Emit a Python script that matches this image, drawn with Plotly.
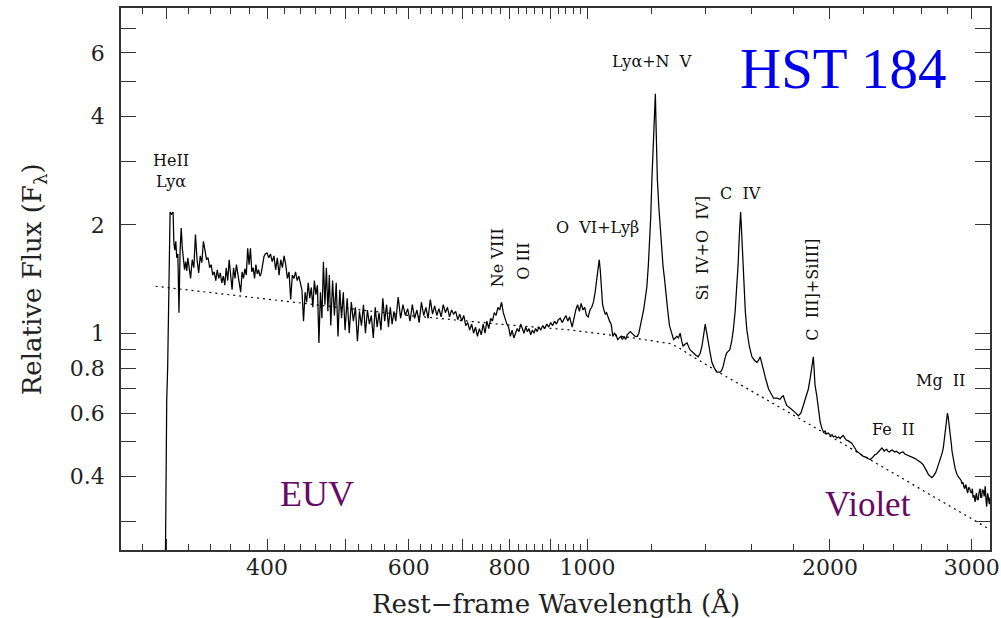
import math
import plotly.graph_objects as go

# ---------------- data ----------------
# Segment 1: EUV, HeII Ly-alpha edge to 500 A
w1 = [299.0, 299.6, 300.3, 301.1, 301.9, 302.6, 303.2, 304.5, 305.8, 306.5, 307.3, 308.2, 309.0, 310.0, 311.0, 312.0, 313.0, 314.0, 315.0, 316.0,
      317.0, 318.0, 319.0, 320.0, 321.5, 323.0, 324.5, 326.0, 327.5, 329.0, 330.5, 332.0, 333.5, 335.0, 336.5, 338.0, 339.5, 341.0, 342.5, 344.0,
      345.5, 347.0, 348.5, 350.0, 351.5, 353.0, 354.5, 356.0, 357.5, 359.0, 360.5, 362.0, 363.5, 365.0, 366.5, 368.0, 369.5, 371.0, 372.5, 374.0,
      375.5, 377.0, 378.5, 380.0, 381.5, 383.0, 384.5, 386.0, 387.5, 389.0, 390.5, 392.0, 393.5, 395.0, 396.5, 398.0, 400.0, 402.0, 404.0, 406.0,
      408.0, 410.0, 412.0, 414.0, 416.0, 418.0, 420.0, 422.0, 424.0, 426.0, 428.0, 430.0, 432.0, 434.0, 436.0, 438.0, 440.0, 442.0, 444.0, 446.0,
      448.0, 450.0, 452.0, 454.0, 456.0, 458.0, 460.0, 462.0, 464.0, 466.0, 468.0, 470.0, 472.0, 474.0, 476.0, 478.0, 480.0, 482.5, 485.0, 487.5,
      490.0, 492.5, 495.0, 497.5, 500.0]
f1 = [0.20, 0.40, 0.65, 0.80, 1.25, 1.50, 2.17, 2.14, 2.17, 1.78, 1.70, 1.80, 1.62, 1.66, 1.14, 1.70, 1.96, 1.72, 1.55, 1.50,
      1.58, 1.49, 1.62, 1.55, 1.42, 1.60, 1.52, 1.88, 1.60, 1.47, 1.64, 1.57, 1.80, 1.70, 1.60, 1.62, 1.52, 1.55, 1.45, 1.48,
      1.40, 1.50, 1.42, 1.47, 1.38, 1.44, 1.36, 1.52, 1.40, 1.60, 1.46, 1.32, 1.52, 1.42, 1.55, 1.47, 1.38, 1.30, 1.48, 1.42,
      1.51, 1.45, 1.72, 1.55, 1.72, 1.48, 1.52, 1.42, 1.55, 1.46, 1.50, 1.44, 1.47, 1.56, 1.63, 1.66, 1.67, 1.62, 1.66, 1.58,
      1.64, 1.50, 1.62, 1.45, 1.60, 1.52, 1.64, 1.55, 1.42, 1.48, 1.24, 1.45, 1.42, 1.48, 1.40, 1.44, 1.36, 1.32, 1.08, 1.30,
      1.22, 1.38, 1.25, 1.34, 1.18, 1.40, 1.28, 1.36, 0.94, 1.30, 1.10, 1.58, 1.20, 1.52, 1.15, 1.45, 1.05, 1.40, 1.12, 1.38,
      0.98, 1.32, 1.10, 1.30, 1.02]

# Segment 2: 500 - 1000 A
w2 = [503, 506, 509, 512, 515, 518, 521, 524, 527, 530, 533, 536, 539, 542, 545, 548, 551, 554, 557, 560,
      563, 566, 569, 572, 575, 578, 582, 586, 590, 594, 598, 602, 606, 610, 614, 618, 622, 626, 630, 634,
      638, 642, 646, 650, 654, 658, 662, 666, 670, 674, 678, 682, 686, 690, 694, 698, 702, 706, 710, 714,
      718, 722, 726, 730, 734, 738, 742, 746, 750, 754, 758, 762, 766, 770, 774, 778, 782, 786, 790, 794,
      798, 802, 806, 810, 814, 818, 822, 826, 830, 834, 838, 842, 846, 850, 854, 858, 862, 866, 870, 875,
      880, 885, 890, 895, 900, 905, 910, 915, 920, 925, 930, 935, 940, 945, 950, 957, 962, 967, 972, 977,
      982, 987, 992, 997]
f2 = [1.25, 1.00, 1.22, 1.08, 1.18, 0.95, 1.15, 1.05, 1.20, 1.00, 1.16, 1.06, 1.12, 0.97, 1.18, 1.04, 1.14, 1.02, 1.25, 1.08,
      1.20, 1.04, 1.18, 1.06, 1.15, 1.08, 1.26, 1.10, 1.20, 1.12, 1.17, 1.08, 1.20, 1.10, 1.16, 1.07, 1.22, 1.12, 1.18, 1.10,
      1.24, 1.13, 1.19, 1.12, 1.17, 1.11, 1.20, 1.14, 1.18, 1.11, 1.16, 1.13, 1.15, 1.09, 1.13, 1.08, 1.12, 1.05, 1.07, 1.02,
      1.06, 1.00, 1.04, 0.98, 1.03, 0.99, 1.06, 1.00, 1.08, 1.03, 1.10, 1.08, 1.14, 1.12, 1.18, 1.16, 1.22, 1.14, 1.10, 1.06,
      1.04, 0.98, 1.02, 0.97, 1.00, 1.03, 1.01, 1.06, 1.03, 1.00, 1.04, 1.01, 1.03, 0.99, 1.02, 1.00, 1.03, 1.01, 1.04, 1.02,
      1.05, 1.03, 1.06, 1.04, 1.07, 1.05, 1.08, 1.06, 1.09, 1.10, 1.07, 1.10, 1.12, 1.08, 1.11, 1.04, 1.10, 1.16, 1.20, 1.15,
      1.21, 1.16, 1.18, 1.12]

# Segment 3: 1000 - 1940 A (O VI, Ly-alpha, Si IV, C IV, C III])
w3 = [1002, 1007, 1012, 1017, 1022, 1026, 1030, 1034, 1037, 1040, 1044, 1048, 1052, 1056, 1060, 1065, 1070, 1075, 1080, 1085,
      1090, 1095, 1100, 1105, 1110, 1115, 1120, 1130, 1140, 1146, 1153, 1158, 1163, 1169, 1174, 1180, 1185, 1190, 1194, 1198,
      1202, 1206, 1210, 1214, 1217, 1221, 1226, 1231, 1236, 1241, 1246, 1252, 1258, 1264, 1272, 1279, 1285, 1291, 1297, 1303,
      1309, 1314, 1320, 1329, 1340, 1352, 1362, 1372, 1380, 1387, 1393, 1397, 1400, 1404, 1408, 1413, 1420, 1427, 1437, 1447,
      1455, 1461, 1468, 1474, 1481, 1488, 1495, 1502, 1510, 1517, 1525, 1532, 1538, 1543, 1546, 1549, 1552, 1556, 1560, 1564,
      1570, 1577, 1588, 1600, 1612, 1623, 1630, 1638, 1646, 1654, 1666, 1678, 1690, 1702, 1718, 1734, 1742, 1750, 1758, 1767,
      1784, 1801, 1814, 1827, 1840, 1853, 1866, 1880, 1890, 1898, 1903, 1907, 1911, 1916, 1926, 1935]
f3 = [1.11, 1.16, 1.18, 1.22, 1.30, 1.40, 1.52, 1.60, 1.50, 1.32, 1.20, 1.16, 1.13, 1.14, 1.11, 1.08, 1.06, 0.98, 1.00, 0.99,
      0.96, 0.97, 0.98, 0.96, 0.98, 0.96, 0.99, 1.01, 0.99, 0.98, 0.98, 1.00, 1.05, 1.10, 1.16, 1.26, 1.35, 1.55, 1.74, 2.10,
      2.67, 3.30, 3.90, 4.62, 3.60, 2.67, 2.25, 1.94, 1.70, 1.53, 1.42, 1.24, 1.15, 1.05, 0.99, 0.96, 0.97, 0.98, 0.97, 1.00,
      0.95, 0.92, 0.93, 0.94, 0.90, 0.88, 0.87, 0.86, 0.88, 0.92, 0.98, 1.03, 1.06, 1.02, 0.97, 0.94, 0.88, 0.83, 0.80, 0.78,
      0.78, 0.78, 0.79, 0.81, 0.85, 0.88, 0.89, 0.90, 0.95, 1.02, 1.15, 1.32, 1.55, 1.85, 2.05, 2.17, 2.00, 1.75, 1.50, 1.32,
      1.15, 1.02, 0.92, 0.86, 0.84, 0.83, 0.84, 0.86, 0.82, 0.79, 0.74, 0.70, 0.68, 0.66, 0.66, 0.655, 0.665, 0.67, 0.65, 0.63,
      0.62, 0.61, 0.60, 0.59, 0.60, 0.63, 0.66, 0.70, 0.75, 0.80, 0.84, 0.86, 0.80, 0.72, 0.67, 0.61]

# Segment 4: 1945 - 3170 A (Fe II, Mg II)
w4 = [1945, 1954, 1964, 1972, 1980, 1990, 2002, 2012, 2020, 2030, 2040, 2050, 2059, 2068, 2077, 2086, 2095, 2106, 2118, 2128,
      2135, 2147, 2159, 2170, 2181, 2190, 2200, 2210, 2220, 2232, 2245, 2255, 2266, 2275, 2285, 2295, 2305, 2312, 2320, 2328,
      2335, 2343, 2352, 2361, 2370, 2380, 2390, 2405, 2420, 2430, 2440, 2452, 2465, 2477, 2490, 2500, 2510, 2522, 2535, 2548,
      2562, 2573, 2585, 2598, 2612, 2621, 2630, 2640, 2650, 2663, 2676, 2685, 2695, 2705, 2716, 2726, 2735, 2746, 2757, 2765,
      2772, 2778, 2784, 2791, 2798, 2804, 2810, 2815, 2820, 2825, 2830, 2835, 2840, 2848, 2855, 2861, 2867, 2876, 2885, 2897,
      2910, 2918, 2925, 2932, 2940, 2947, 2953, 2959, 2965, 2972, 2980, 2990, 2999, 3005, 3010, 3019, 3028, 3034, 3040, 3047,
      3055, 3063, 3072, 3078, 3085, 3092, 3100, 3108, 3117, 3124, 3130, 3139, 3148, 3154, 3160, 3170]
f4 = [0.565, 0.545, 0.53, 0.535, 0.525, 0.528, 0.52, 0.522, 0.515, 0.518, 0.512, 0.515, 0.51, 0.516, 0.52, 0.512, 0.505, 0.503, 0.50, 0.495,
      0.49, 0.48, 0.47, 0.466, 0.46, 0.458, 0.455, 0.454, 0.452, 0.448, 0.446, 0.45, 0.456, 0.46, 0.462, 0.468, 0.472, 0.476, 0.48, 0.476,
      0.47, 0.474, 0.476, 0.47, 0.468, 0.472, 0.474, 0.468, 0.47, 0.466, 0.463, 0.467, 0.468, 0.462, 0.46, 0.457, 0.455, 0.453, 0.452, 0.449,
      0.446, 0.443, 0.44, 0.436, 0.43, 0.425, 0.42, 0.412, 0.405, 0.40, 0.397, 0.40, 0.405, 0.41, 0.42, 0.43, 0.44, 0.45, 0.466, 0.48,
      0.50, 0.52, 0.54, 0.57, 0.60, 0.585, 0.565, 0.55, 0.53, 0.51, 0.49, 0.47, 0.456, 0.44, 0.43, 0.42, 0.41, 0.405, 0.40, 0.395,
      0.39, 0.382, 0.385, 0.375, 0.37, 0.38, 0.376, 0.365, 0.36, 0.372, 0.372, 0.362, 0.36, 0.37, 0.35, 0.355, 0.34, 0.352, 0.36, 0.345,
      0.345, 0.362, 0.37, 0.35, 0.35, 0.368, 0.365, 0.352, 0.376, 0.345, 0.33, 0.36, 0.346, 0.335, 0.35, 0.34]

# Power-law continuum (dotted)
cont_wave = [291, 430, 600, 775, 956, 1140, 1267, 1300, 1341, 1461, 1963, 3160]
cont_flux = [1.35, 1.22, 1.12, 1.06, 1.02, 0.97, 0.935, 0.91, 0.87, 0.775, 0.53, 0.285]

# Emission-line labels
line_labels = ["HeII<br>Ly\u03b1", "Ly\u03b1+N  V", "O  VI+Ly\u03b2", "Ne VIII", "O III",
               "Si  IV+O  IV]", "C  IV", "C  III]+SiIII]", "Fe  II", "Mg  II"]
label_wave = [304, 1202, 1028, 773, 834, 1388, 1547, 1905, 2395, 2740]
label_flux = [2.83, 5.67, 1.96, 1.62, 1.58, 1.72, 2.45, 1.32, 0.541, 0.739]
label_angle = [0, 0, 0, -90, -90, -90, 0, -90, 0, 0]

# Axis ticks
x_major = [400, 600, 800, 1000, 2000, 3000]          # labelled
x_major_unlabelled = [300, 500, 700, 900]             # long ticks, no label
y_major = [0.4, 0.6, 0.8, 1, 2, 4, 6]
y_labels = ["0.4", "0.6", "0.8", "1", "2", "4", "6"]
y_minor = [0.3, 0.5, 0.7, 0.9, 3, 5, 7]

x_title = "Rest\u2212frame Wavelength (\u00c5)"
y_title = "Relative Flux (F<sub>\u03bb</sub>)"

for a, b in ((w1, f1), (w2, f2), (w3, f3), (w4, f4)):
    assert len(a) == len(b)

wave = w1 + w2 + w3 + w4
flux = f1 + f2 + f3 + f4

x_minor = [280] + [v for v in range(320, 1000, 20) if v % 100 != 0] + \
          [v for v in range(1200, 3001, 200) if v % 1000 != 0]

X_RANGE = [math.log10(263.5), math.log10(3160)]
Y_RANGE = [math.log10(0.25), math.log10(8.0)]

SERIF = "DejaVu Serif"
AX = "#333333"
TXT = "#222222"

fig = go.Figure()
fig.add_trace(go.Scatter(x=cont_wave, y=cont_flux, mode="lines", xaxis="x2", yaxis="y",
                         line=dict(color="black", width=1.2, dash="2px,4px"),
                         hoverinfo="skip", showlegend=False))
fig.add_trace(go.Scatter(x=wave, y=flux, mode="lines",
                         line=dict(color="black", width=1.25),
                         showlegend=False, name="HST 184"))

for t, w, f, ang in zip(line_labels, label_wave, label_flux, label_angle):
    fig.add_annotation(x=math.log10(w), y=math.log10(f), text=t, showarrow=False,
                       textangle=ang, xanchor="center", yanchor="middle",
                       font=dict(family=SERIF, size=16, color="#111111"))

fig.add_annotation(x=math.log10(2077), y=math.log10(5.45), text="HST 184", showarrow=False,
                   xanchor="center", yanchor="middle",
                   font=dict(family="Liberation Serif", size=57, color="#0000ee"))
fig.add_annotation(x=math.log10(462), y=math.log10(0.358), text="EUV", showarrow=False,
                   xanchor="center", yanchor="middle",
                   font=dict(family="Liberation Serif", size=36, color="#660a66"))
fig.add_annotation(x=math.log10(2230), y=math.log10(0.335), text="Violet", showarrow=False,
                   xanchor="center", yanchor="middle",
                   font=dict(family="Liberation Serif", size=35, color="#660a66"))

# axis titles placed as paper annotations so the frame keeps its exact size
fig.add_annotation(xref="paper", yref="paper", x=0.5, y=-0.098, text=x_title,
                   showarrow=False, xanchor="center", yanchor="middle",
                   font=dict(family=SERIF, size=26, color=TXT))
fig.add_annotation(xref="paper", yref="paper", x=-0.101, y=0.5, text=y_title,
                   showarrow=False, xanchor="center", yanchor="middle", textangle=-90,
                   font=dict(family=SERIF, size=26, color=TXT))

fig.update_layout(
    width=1001, height=618,
    margin=dict(l=121, r=11, t=8, b=68, autoexpand=False),
    paper_bgcolor="white", plot_bgcolor="white",
    showlegend=False,
    xaxis=dict(type="log", range=X_RANGE, showgrid=False, zeroline=False, automargin=False,
               showline=True, linecolor=AX, linewidth=1.5, mirror="allticks",
               ticks="inside", ticklen=11, tickwidth=1, tickcolor=AX,
               tickmode="array", tickvals=x_major, ticktext=[str(v) for v in x_major],
               ticklabelstandoff=-3,
               tickfont=dict(family=SERIF, size=22, color=TXT),
               minor=dict(tickmode="array", tickvals=x_minor, ticks="inside",
                          ticklen=6, tickwidth=1, tickcolor=AX, showgrid=False)),
    xaxis2=dict(type="log", range=X_RANGE, overlaying="x", anchor="y", side="bottom",
                showgrid=False, zeroline=False, automargin=False,
                showline=True, linecolor=AX, linewidth=1.5, mirror="allticks",
                ticks="inside", ticklen=11, tickwidth=1, tickcolor=AX,
                tickmode="array", tickvals=x_major_unlabelled, showticklabels=False),
    yaxis=dict(type="log", range=Y_RANGE, showgrid=False, zeroline=False, automargin=False,
               showline=True, linecolor=AX, linewidth=1.5, mirror="allticks",
               ticks="inside", ticklen=15, tickwidth=1, tickcolor=AX,
               tickmode="array", tickvals=y_major, ticktext=y_labels,
               ticklabelstandoff=10,
               tickfont=dict(family=SERIF, size=22, color=TXT),
               minor=dict(tickmode="array", tickvals=y_minor, ticks="inside",
                          ticklen=8, tickwidth=1, tickcolor=AX, showgrid=False)),
)

fig.write_html("out.html", config={"displayModeBar": False},
               post_script="document.body.style.margin='0px';document.body.style.overflow='hidden';")
